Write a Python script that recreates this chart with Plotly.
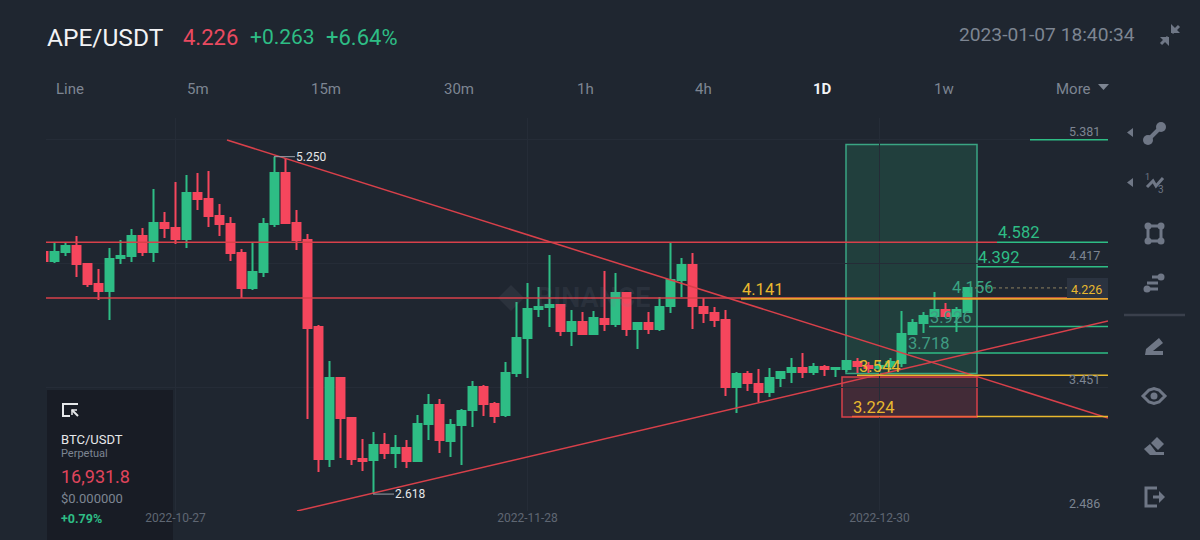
import pandas as pd
import plotly.graph_objects as go

# ---- data ----
first_date = "2022-10-15"
opens = [4.506,4.436,4.506,4.553,4.413,4.257,4.202,4.460,4.475,4.631,4.506,4.733,4.694,4.608,4.967,4.920,4.787,4.725,4.499,4.226,4.350,4.725,5.123,4.733,4.600,3.921,2.892,3.524,3.212,2.892,2.884,3.001,2.939,2.978,2.876,3.165,3.313,3.032,3.157,3.274,3.453,3.321,3.235,3.563,3.836,4.062,4.077,4.093,3.890,3.960,3.867,3.984,3.945,4.187,3.906,3.953,3.906,4.085,4.288,4.405,4.077,4.031,3.976,3.453,3.555,3.477,3.414,3.524,3.570,3.602,3.570,3.609,3.594,3.594,3.648,3.617,3.602,3.617,3.641,3.867,3.953,4.007,4.054,4.007,4.038]
highs = [4.506,4.577,4.577,4.631,4.421,4.374,4.538,4.600,4.686,4.694,4.998,4.818,5.052,5.107,5.123,5.138,4.881,4.779,4.530,4.577,4.772,5.250,5.240,4.834,4.647,3.937,3.656,3.531,3.212,3.048,3.102,3.095,3.079,3.040,3.235,3.399,3.360,3.204,3.282,3.500,3.469,3.336,3.648,4.116,4.265,4.233,4.483,4.101,4.054,4.038,4.046,4.358,4.343,4.194,3.960,4.038,4.155,4.577,4.460,4.499,4.148,4.077,4.054,3.570,3.578,3.594,3.602,3.578,3.680,3.719,3.641,3.625,3.609,3.664,3.680,3.648,3.664,3.680,4.046,3.984,4.038,4.194,4.109,4.077,4.226]
lows = [4.436,4.421,4.475,4.311,4.233,4.132,3.976,4.413,4.428,4.475,4.428,4.616,4.569,4.538,4.834,4.701,4.631,4.436,4.148,4.210,4.311,4.701,4.725,4.522,3.204,2.790,2.829,2.900,2.845,2.798,2.618,2.892,2.822,2.822,2.876,3.040,2.939,2.907,2.845,3.141,3.227,3.173,3.219,3.531,3.524,3.999,3.921,3.851,3.773,3.867,3.867,3.890,3.921,3.851,3.750,3.867,3.890,4.031,4.155,3.906,3.953,3.921,3.383,3.251,3.422,3.336,3.375,3.453,3.485,3.524,3.547,3.539,3.531,3.570,3.563,3.563,3.570,3.586,3.609,3.859,3.875,3.999,3.999,3.882,4.038]
closes = [4.436,4.506,4.553,4.413,4.257,4.202,4.452,4.475,4.631,4.506,4.733,4.694,4.608,4.967,4.920,4.787,4.725,4.499,4.226,4.350,4.725,5.123,4.733,4.600,3.914,2.892,3.524,3.212,2.892,2.876,3.001,2.939,2.978,2.876,3.165,3.313,3.040,3.157,3.266,3.453,3.321,3.227,3.563,3.836,4.062,4.077,4.093,3.890,3.960,3.867,3.992,3.945,4.187,3.906,3.953,3.906,4.077,4.288,4.405,4.085,4.031,3.976,3.453,3.555,3.485,3.414,3.524,3.570,3.602,3.570,3.609,3.594,3.602,3.656,3.617,3.602,3.617,3.648,3.867,3.953,4.007,4.054,4.007,4.054,4.226]
y_ticks = [5.381, 4.417, 3.451, 2.486]
x_ticks = ["2022-10-27", "2022-11-28", "2022-12-30"]
tabs = ["Line", "5m", "15m", "30m", "1h", "4h", "1D", "1w", "More"]

BG = "#1f2630"
GRID = "#252c37"
RED = "#f6465d"
GREEN = "#2ebd85"
LINE_RED = "#d8404a"
YELLOW = "#e8b82e"
GREY = "#7d8592"
ICON = "#6f7786"

dates = pd.date_range(first_date, periods=len(opens), freq="D")
D0 = pd.Timestamp("2022-10-16")


def X(px):
    return (D0 + pd.Timedelta(days=(px - 54.5) / 11.0)).strftime("%Y-%m-%d %H:%M:%S")


def PX(px):
    return px / 1200.0


def PY(py):
    return 1 - py / 540.0


fig = go.Figure(go.Candlestick(
    x=dates, open=opens, high=highs, low=lows, close=closes,
    increasing=dict(line=dict(color=GREEN, width=2), fillcolor=GREEN),
    decreasing=dict(line=dict(color=RED, width=2), fillcolor=RED),
    whiskerwidth=0, showlegend=False, hoverinfo="skip",
))

shapes, ann = [], []


def txt(px, py, s, size, color, anchor="left", font="Roboto"):
    ann.append(dict(x=PX(px), y=PY(py), xref="paper", yref="paper", text=s, showarrow=False,
                    xanchor=anchor, yanchor="middle", borderpad=0,
                    font=dict(size=size, color=color, family=font)))


def lvl(px, price, s, size, color, shift=-9, anchor="left"):
    ann.append(dict(x=X(px), y=price, xref="x", yref="y", text=s, showarrow=False, xanchor=anchor,
                    yanchor="middle", yshift=-shift, borderpad=0,
                    font=dict(size=size, color=color, family="Roboto")))


def seg(x0, y0, x1, y1, color, width=1.5, dash=None):
    shapes.append(dict(type="line", xref="x", yref="y", x0=X(x0), y0=y0, x1=X(x1), y1=y1,
                       line=dict(color=color, width=width, dash=dash)))


def pth(points, fill=None, stroke=None, width=0, close=True):
    d = "M " + " L ".join(f"{PX(a):.5f},{PY(b):.5f}" for a, b in points) + (" Z" if close else "")
    shapes.append(dict(type="path", xref="paper", yref="paper", path=d,
                       fillcolor=fill if fill else "rgba(0,0,0,0)",
                       line=dict(color=stroke if stroke else "rgba(0,0,0,0)", width=width)))


def dot(cx, cy, r, fill=ICON, stroke=None, width=0):
    shapes.append(dict(type="circle", xref="paper", yref="paper", x0=PX(cx - r), x1=PX(cx + r),
                       y0=PY(cy + r), y1=PY(cy - r), fillcolor=fill,
                       line=dict(color=stroke if stroke else "rgba(0,0,0,0)", width=width)))


# BTC panel
shapes.append(dict(type="rect", xref="paper", yref="paper", x0=PX(47), x1=PX(173), y0=PY(540), y1=PY(390),
                   fillcolor="#181c25", line=dict(width=0), layer="below"))
# position rectangles
shapes.append(dict(type="rect", xref="x", yref="y", x0=X(846), x1=X(977), y0=5.345, y1=3.558,
                   fillcolor="rgba(46,189,133,0.17)", line=dict(color="#3aa583", width=1.5), layer="below"))
shapes.append(dict(type="rect", xref="x", yref="y", x0=X(842), x1=X(977), y0=3.532, y1=3.220,
                   fillcolor="rgba(246,70,93,0.17)", line=dict(color="#d8404a", width=1.5), layer="below"))
# watermark
pth([(498, 298), (511, 285), (524, 298), (511, 311)], fill="rgba(120,130,145,0.13)")
txt(535, 298, "<b>BINANCE</b>", 27, "rgba(120,130,145,0.13)")

# fib / level lines
seg(1030, 5.381, 1108, 5.381, GREEN)
seg(997, 4.582, 1108, 4.582, GREEN)
seg(977, 4.392, 1108, 4.392, GREEN)
seg(929, 3.926, 1108, 3.926, GREEN)
seg(908, 3.718, 1108, 3.718, GREEN)
# red drawings
seg(46, 4.582, 997, 4.582, LINE_RED)
seg(46, 4.148, 1108, 4.148, LINE_RED)
seg(227, 5.380, 1108, 3.212, LINE_RED)
seg(297, 2.486, 1108, 3.968, LINE_RED)
# yellow levels
seg(741, 4.141, 1108, 4.141, "#e8a32e", 2)
seg(857, 3.544, 1108, 3.544, YELLOW)
seg(852, 3.224, 977, 3.224, "#f0653a", 1.5)
seg(977, 3.224, 1108, 3.224, YELLOW)
# price line + tag
seg(975, 4.226, 1068, 4.226, "#8d8060", 1, "dot")
shapes.append(dict(type="rect", xref="paper", yref="paper", x0=PX(1067), x1=PX(1108), y0=PY(298), y1=PY(278),
                   fillcolor="#2b3340", line=dict(width=0)))
txt(1086, 289, "4.226", 12.5, YELLOW, "center")

# high / low markers
seg(274, 5.250, 295, 5.250, "#9aa0aa", 1)
seg(373, 2.618, 394, 2.618, "#9aa0aa", 1)
lvl(295, 5.250, "5.250", 12, "#e6e8ea", 0)
lvl(394, 2.618, "2.618", 12, "#e6e8ea", 0)

# level labels
lvl(996.5, 4.582, "4.582", 16.5, GREEN, -10)
lvl(976.5, 4.392, "4.392", 16.5, GREEN, -9)
lvl(950.5, 4.156, "4.156", 16.5, "#3aa583", -9)
lvl(928.5, 3.926, "3.926", 16.5, "#3f9c82", -9)
lvl(906.5, 3.718, "3.718", 16.5, "#3f9c82", -10)
lvl(740.5, 4.141, "4.141", 16.5, YELLOW, -9)
lvl(857.5, 3.544, "3.544", 16.5, YELLOW, -9)
lvl(851.5, 3.224, "3.224", 16.5, YELLOW, -9)
for v in y_ticks:
    ann.append(dict(x=PX(1102), y=v, xref="paper", yref="y", text=f"{v:.3f}", showarrow=False,
                    xanchor="right", yanchor="middle", yshift=8,
                    font=dict(size=12.5, color=GREY, family="Roboto")))

# header
txt(46, 37, "APE/USDT", 24.5, "#f2f3f5")
txt(182, 37, "4.226", 22, "#ea4a60")
txt(249, 37, "+0.263", 21, GREEN)
txt(325, 37, "+6.64%", 22, GREEN)
txt(1136, 35, "2023-01-07 18:40:34", 19.2, GREY, "right")
tab_x = [70, 198, 326, 459, 585, 703, 822, 944, 1073]
for name, tx in zip(tabs, tab_x):
    if name == "1D":
        txt(tx, 89, "<b>1D</b>", 15, "#f2f3f5", "center")
    else:
        txt(tx, 89, name, 15, GREY, "center")
pth([(1098, 84), (1109, 84), (1103.5, 90)], fill=GREY)

# compress icon
pth([(1161, 44), (1168, 37)], stroke=ICON, width=3, close=False)
pth([(1160, 37), (1169, 37), (1169, 46)], fill=ICON)
pth([(1172, 33), (1179, 26)], stroke=ICON, width=3, close=False)
pth([(1171, 24), (1171, 33), (1180, 33)], fill=ICON)

# BTC panel contents
pth([(78, 404), (63, 404), (63, 416), (70, 416)], stroke="#e6e8ea", width=2, close=False)
pth([(78, 416), (72, 410)], stroke="#e6e8ea", width=2, close=False)
pth([(72, 415), (72, 410), (77, 410)], stroke="#e6e8ea", width=1.5, close=False)
txt(60, 439, "BTC/USDT", 13, "#e6e8ea")
txt(60, 453, "Perpetual", 11, GREY)
txt(60, 476, "16,931.8", 18, "#e0455c")
txt(60, 498, "$0.000000", 13, GREY)
txt(60, 518, "<b>+0.79%</b>", 12.5, GREEN)

# right toolbar
pth([(1133, 128), (1133, 137), (1127, 132.5)], fill=ICON)
pth([(1148, 140), (1161, 127)], stroke=ICON, width=4, close=False)
dot(1148, 140, 5)
dot(1161, 127, 5)
pth([(1133, 178), (1133, 187), (1127, 182.5)], fill=ICON)
pth([(1147, 187), (1153, 181), (1156, 186), (1163, 178)], stroke=ICON, width=3, close=False)
txt(1147, 177, "1", 9, ICON, "center")
txt(1161, 189, "3", 10, ICON, "center")
pth([(1148, 226), (1161, 226), (1161, 241), (1148, 241)], stroke=ICON, width=3)
for a, b in [(1148, 226), (1161, 226), (1148, 241), (1161, 241)]:
    dot(a, b, 3.5)
pth([(1152, 277), (1162, 277)], stroke=ICON, width=3, close=False)
dot(1161, 277, 3.5)
pth([(1147, 283), (1158, 283)], stroke=ICON, width=3, close=False)
pth([(1147, 289), (1158, 289)], stroke=ICON, width=3, close=False)
dot(1147, 289, 3.5)
shapes.append(dict(type="line", xref="paper", yref="paper", x0=PX(1124), x1=PX(1185), y0=PY(315), y1=PY(315),
                   line=dict(color="#3a404c", width=2.5)))
pth([(1146, 349), (1159, 338), (1163, 343), (1153, 351), (1163, 351), (1163, 355), (1145, 355)], fill=ICON)
pth([(1143, 396), (1149, 390), (1154, 388.5), (1159, 390), (1165, 396), (1159, 402), (1154, 403.5), (1149, 402)],
    stroke=ICON, width=3)
dot(1154, 396, 3.5)
pth([(1157, 437), (1164, 444), (1158, 450), (1151, 443)], fill=ICON)
pth([(1144, 449), (1150, 444), (1156, 452), (1164, 452), (1164, 455), (1150, 455)], fill=ICON)
pth([(1157, 488), (1146, 488), (1146, 506), (1157, 506)], stroke=ICON, width=3, close=False)
pth([(1153, 497), (1162, 497)], stroke=ICON, width=3, close=False)
pth([(1159, 491), (1165, 497), (1159, 503)], fill=ICON)

fig.update_layout(
    width=1200, height=540, autosize=False,
    margin=dict(l=0, r=0, t=0, b=0),
    paper_bgcolor=BG, plot_bgcolor="rgba(0,0,0,0)",
    shapes=shapes, annotations=ann, showlegend=False,
    boxgap=0.15, boxgroupgap=0.15,
    xaxis=dict(type="date", domain=[46 / 1200, 1108 / 1200], range=[X(46), X(1108)],
               rangeslider=dict(visible=False), tickmode="array", tickvals=x_ticks, ticktext=x_ticks,
               showgrid=True, gridcolor=GRID, gridwidth=1, zeroline=False, showline=False, ticks="",
               ticklabelstandoff=-2,
               tickfont=dict(size=12, color="#5f6773", family="Roboto"), fixedrange=True),
    yaxis=dict(domain=[(540 - 511) / 540, (540 - 118) / 540], range=[2.486, 2.486 + (511 - 118) / 128.2],
               tickmode="array", tickvals=y_ticks, showticklabels=False, showgrid=True, gridcolor=GRID,
               gridwidth=1, zeroline=False, showline=False, ticks="", side="right", fixedrange=True),
)
fig.write_html("out.html", config=dict(displayModeBar=False),
               post_script="document.body.style.margin='0';document.body.style.background='%s';" % BG)
